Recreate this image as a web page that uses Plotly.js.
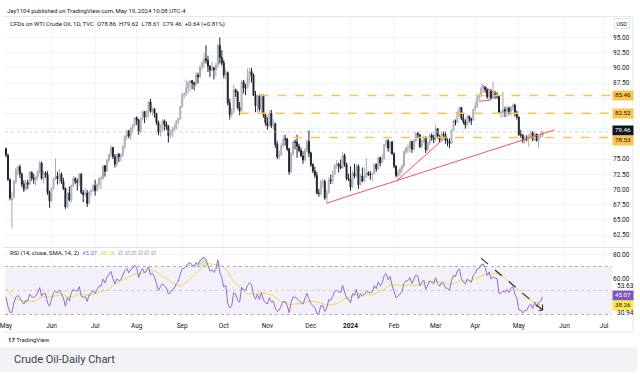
<!DOCTYPE html>
<html><head><meta charset="utf-8">
<script src="https://cdn.plot.ly/plotly-3.0.1.min.js"></script>
<style>html,body{margin:0;padding:0;background:#fff;}#chart{width:640px;height:374px;}</style>
</head><body><div id="chart"></div>
<script>
// ---------- data ----------
const months = ['2023-05','2023-06','2023-07','2023-08','2023-09','2023-10','2023-11','2023-12','2024-01','2024-02','2024-03','2024-04','2024-05'];
const monthDays = [
 [1,2,3,4,5,8,9,10,11,12,15,16,17,18,19,22,23,24,25,26,29,30,31],
 [1,2,5,6,7,8,9,12,13,14,15,16,19,20,21,22,23,26,27,28,29,30],
 [3,4,5,6,7,10,11,12,13,14,17,18,19,20,21,24,25,26,27,28,31],
 [1,2,3,4,7,8,9,10,11,14,15,16,17,18,21,22,23,24,25,28,29,30,31],
 [1,4,5,6,7,8,11,12,13,14,15,18,19,20,21,22,25,26,27,28,29],
 [2,3,4,5,6,9,10,11,12,13,16,17,18,19,20,23,24,25,26,27,30,31],
 [1,2,3,6,7,8,9,10,13,14,15,16,17,20,21,22,23,24,27,28,29,30],
 [1,4,5,6,7,8,11,12,13,14,15,18,19,20,21,22,26,27,28,29],
 [2,3,4,5,8,9,10,11,12,15,16,17,18,19,22,23,24,25,26,29,30,31],
 [1,2,5,6,7,8,9,12,13,14,15,16,19,20,21,22,23,26,27,28,29],
 [1,4,5,6,7,8,11,12,13,14,15,18,19,20,21,22,25,26,27,28],
 [1,2,3,4,5,8,9,10,11,12,15,16,17,18,19,22,23,24,25,26,29,30],
 [1,2,3,6,7,8,9,10,13,14,15,16,17]
];
const holidays = ['2023-12-25','2024-01-01','2024-03-29'];

const open = [
 76.7,75.6,71.6,68.3,68.7,71.3,73.1,73.7,72.5,70.9,70.0,71.1,70.9,72.8,71.9,71.6,72.0,72.9,74.3,71.8,72.7,72.4,69.5,
 68.1,70.1,71.8,72.2,71.7,72.5,71.3,70.2,67.1,69.4,68.3,70.6,71.8,71.3,71.2,72.5,69.5,69.2,69.4,67.7,69.6,69.9,
 70.6,69.8,70.8,71.8,71.8,73.9,73.0,74.8,75.8,76.9,75.4,74.2,75.8,75.4,75.6,77.1,78.7,79.6,78.8,80.1,80.6,
 81.8,81.4,79.5,81.6,82.8,81.9,82.9,84.4,82.8,83.2,82.5,81.0,79.4,80.4,81.3,80.7,80.4,78.9,79.1,79.8,80.1,81.2,81.6,
 83.6,85.6,85.7,86.7,87.5,87.9,87.5,87.3,88.8,88.5,90.2,90.8,91.5,91.2,90.3,89.6,90.0,89.7,90.4,93.7,91.7,
 90.8,88.8,89.2,84.2,82.3,82.8,86.4,86.0,83.5,82.9,87.7,86.7,86.7,88.3,89.4,88.8,85.5,83.7,85.4,83.2,85.5,82.3,
 81.0,80.4,82.5,80.5,80.8,77.4,75.3,75.7,77.2,78.3,78.3,76.7,72.9,75.9,77.8,77.8,77.1,76.4,75.5,74.9,76.4,77.9,
 76.0,74.1,73.0,72.3,69.4,69.3,71.2,71.3,68.6,69.5,71.6,71.4,72.5,73.9,74.2,73.9,73.6,75.6,74.1,71.8,
 71.7,70.4,72.7,72.2,73.8,70.8,72.2,71.4,72.0,72.7,72.5,72.4,72.6,74.1,73.4,75.2,74.4,75.1,77.4,78.0,76.8,77.8,
 75.8,73.8,72.3,72.8,73.3,73.9,76.2,76.8,76.9,77.9,76.6,78.0,79.2,79.0,77.0,77.9,78.6,76.5,77.6,78.9,78.5,
 78.3,80.0,78.7,78.2,79.1,78.9,78.0,77.9,77.6,79.7,81.3,81.0,82.7,83.5,81.7,81.1,80.6,82.0,81.6,81.4,
 83.2,83.7,85.2,85.4,86.6,86.9,86.4,85.2,86.2,85.0,85.7,85.4,85.4,82.7,82.7,83.1,82.9,83.4,82.8,83.6,83.9,82.6,
 81.9,79.0,78.9,78.1,78.5,78.4,79.0,79.3,78.3,79.1,78.0,78.6,78.86
];
const high = [
 76.9,75.9,71.8,69.5,71.6,73.6,73.9,74.1,72.8,71.5,71.6,71.6,73.0,73.0,72.6,72.3,73.2,74.7,74.6,73.0,73.0,73.0,69.8,
 70.4,72.0,75.1,72.9,73.4,72.8,71.9,70.3,69.6,70.5,70.8,72.2,72.0,71.8,72.7,72.7,69.9,70.2,69.9,69.7,70.0,70.9,
 71.6,71.0,72.0,72.3,74.0,74.0,75.0,75.9,77.3,77.0,75.8,75.9,76.0,75.9,77.3,78.9,79.8,79.8,80.2,80.8,81.8,
 82.0,81.6,81.8,83.0,82.9,83.0,84.5,84.9,83.5,83.4,82.6,81.3,80.7,81.6,81.5,81.2,80.6,79.8,80.3,80.7,81.4,81.8,83.8,
 85.9,85.9,88.1,87.8,88.0,87.9,87.7,89.3,89.2,90.4,91.2,92.4,93.7,92.0,90.4,91.0,90.2,90.8,94.0,95.0,92.9,
 91.3,89.9,89.4,84.9,83.4,87.2,86.6,86.2,84.4,88.0,88.0,87.4,89.9,90.0,90.0,89.1,86.2,85.6,85.6,85.8,85.6,82.4,
 81.9,83.0,83.1,81.6,81.0,77.9,76.4,77.6,78.9,79.0,78.5,76.8,76.1,78.0,78.2,79.0,77.5,76.9,76.3,76.8,78.2,79.7,
 76.2,74.3,73.7,72.9,70.1,71.6,71.8,71.6,69.9,72.0,72.4,73.1,74.1,74.8,74.4,74.9,76.2,75.9,74.4,72.6,
 73.8,73.1,74.2,74.2,74.1,72.6,73.6,73.6,75.2,73.0,73.0,72.8,74.4,74.3,75.3,75.4,75.8,77.5,78.2,78.3,77.9,78.0,
 76.1,74.0,73.3,73.6,74.1,76.4,77.0,77.4,78.1,78.0,78.3,79.4,79.5,79.1,78.2,78.9,78.7,77.9,79.2,79.2,79.0,
 80.6,80.1,79.0,79.6,79.5,79.5,78.4,78.4,79.9,81.5,81.5,83.0,83.6,83.5,82.4,81.5,82.3,82.2,81.8,83.2,
 84.4,85.5,85.8,87.0,87.1,87.0,86.7,86.6,86.5,87.7,86.2,86.0,85.4,83.0,86.1,83.6,83.8,83.6,83.7,84.1,84.1,83.0,
 82.0,79.8,79.1,78.9,78.9,79.0,79.6,79.6,79.4,79.2,78.8,79.3,79.62
];
const low = [
 75.3,71.4,68.2,63.6,68.5,70.9,72.3,71.9,70.4,69.6,69.7,70.1,70.7,71.4,70.9,70.6,71.6,72.6,71.6,71.0,71.9,69.1,67.0,
 67.9,70.0,71.5,70.8,71.0,70.9,69.9,66.8,67.0,68.0,67.9,70.4,70.9,69.8,70.6,69.2,67.9,68.8,67.1,67.6,68.9,69.6,
 69.0,69.7,70.2,70.0,71.6,72.1,72.9,74.5,75.3,75.0,73.6,73.7,74.5,74.6,75.4,76.6,78.2,78.4,78.1,79.3,80.3,
 80.6,79.0,79.3,81.4,80.9,81.5,81.9,82.6,82.1,81.8,80.6,78.9,78.7,79.6,79.7,79.8,77.7,78.4,78.6,79.6,79.8,80.7,81.5,
 83.5,85.0,85.3,85.8,86.1,86.5,86.3,86.9,87.4,88.4,89.6,90.0,90.7,89.3,88.5,89.4,88.1,88.6,90.0,90.7,90.4,
 88.3,88.1,83.8,81.5,81.9,82.5,85.2,83.2,82.2,82.8,85.8,85.5,86.6,87.4,87.6,85.4,82.7,82.6,82.8,82.6,81.8,80.5,
 79.8,80.2,80.1,79.8,76.8,75.0,74.9,75.5,76.9,77.2,76.3,72.4,72.7,75.5,76.6,75.2,76.1,75.3,74.2,74.6,76.1,75.3,
 73.7,72.7,71.9,69.2,68.8,69.0,70.3,68.3,67.7,69.3,70.9,70.9,72.4,73.4,72.8,73.3,73.4,73.7,71.5,71.4,
 69.8,70.3,71.8,72.0,70.1,70.6,71.2,71.2,72.0,72.2,71.6,71.3,72.5,72.9,73.2,73.8,74.3,74.9,76.9,76.2,75.9,75.7,
 73.5,72.0,71.4,72.2,72.7,73.6,75.8,76.0,76.1,76.0,76.4,77.7,78.5,76.8,76.8,77.6,76.0,76.4,77.3,78.0,77.6,
 77.9,78.4,77.7,78.0,78.5,77.5,77.1,76.8,77.5,79.6,80.5,80.9,81.9,81.4,80.7,80.0,80.5,81.0,80.6,81.3,
 82.9,83.4,84.6,85.2,85.9,85.9,84.9,84.7,84.8,84.9,84.9,84.9,82.5,81.8,81.9,81.9,81.9,82.3,82.1,83.0,82.0,81.5,
 78.8,78.5,77.6,77.5,77.9,77.0,78.6,77.9,78.0,77.9,76.8,78.4,78.61
];
const close = [
 75.66,71.66,68.60,68.56,71.34,73.16,73.71,72.56,70.87,70.04,71.11,70.86,72.83,71.86,71.69,71.99,72.91,74.34,71.83,72.67,72.40,69.46,68.09,
 70.10,71.74,72.15,71.74,72.53,71.29,70.17,67.12,69.42,68.27,70.62,71.78,71.30,71.19,72.53,69.51,69.16,69.37,67.70,69.56,69.86,70.64,
 69.79,70.80,71.79,71.80,73.86,72.99,74.83,75.75,76.89,75.42,74.15,75.75,75.35,75.63,77.07,78.74,79.63,78.78,80.09,80.58,81.80,
 81.37,79.49,81.55,82.82,81.94,82.92,84.40,82.82,83.19,82.51,80.99,79.38,80.39,81.25,80.72,80.35,78.89,79.05,79.83,80.10,81.16,81.63,83.63,
 85.55,85.70,86.69,87.54,87.87,87.51,87.29,88.84,88.52,90.16,90.77,91.48,91.20,90.28,89.63,90.03,89.68,90.39,93.68,91.71,90.79,
 88.82,89.23,84.22,82.31,82.79,86.38,85.97,83.49,82.91,87.69,86.66,86.66,88.32,89.37,88.75,85.49,83.74,85.39,83.21,85.54,82.31,81.02,
 80.44,82.46,80.51,80.82,77.37,75.33,75.74,77.17,78.26,78.26,76.66,72.90,75.89,77.83,77.77,77.10,76.40,75.54,74.86,76.41,77.86,75.96,
 74.07,73.04,72.32,69.38,69.34,71.23,71.32,68.61,69.47,71.58,71.43,72.47,73.94,74.22,73.89,73.56,75.57,74.11,71.77,71.65,
 70.38,72.70,72.19,73.81,70.77,72.24,71.37,72.02,72.68,72.50,72.40,72.56,74.08,73.41,75.19,74.37,75.09,77.36,78.01,76.78,77.82,75.85,
 73.82,72.28,72.78,73.31,73.86,76.22,76.84,76.92,77.87,76.64,78.03,79.19,79.00,77.04,77.91,78.61,76.49,77.58,78.87,78.54,78.26,
 79.97,78.74,78.15,79.13,78.93,78.01,77.93,77.56,79.72,81.26,81.04,82.72,83.47,81.68,81.07,80.63,81.95,81.62,81.35,83.17,
 83.71,85.15,85.43,86.59,86.91,86.43,85.23,86.21,85.02,85.66,85.41,85.36,82.69,82.73,83.14,82.90,83.36,82.81,83.57,83.85,82.63,81.93,
 79.00,78.95,78.11,78.48,78.38,78.99,79.26,78.26,79.12,78.02,78.63,78.82,79.46
];
// closes before the visible window (Mar-Apr 2023), only used to warm up the RSI
const warmupClose = [77.69,78.16,79.68,80.46,77.58,76.66,75.72,76.68,74.80,71.33,67.61,68.35,66.74,67.64,69.33,70.90,69.96,69.26,72.81,73.20,72.97,74.37,75.67,
 80.42,80.71,80.61,80.70,79.74,81.53,83.26,82.16,82.52,80.83,81.86,79.16,77.37,77.87,78.76,77.07,74.30,74.76,76.78];

const monthTickDates = ['2023-05-01','2023-06-01','2023-07-03','2023-08-01','2023-09-01','2023-10-02','2023-11-01','2023-12-01','2024-01-02','2024-02-01','2024-03-01','2024-04-01','2024-05-01','2024-06-03','2024-07-01'];
const monthTickLabels = ['May','Jun','Jul','Aug','Sep','Oct','Nov','Dec','<b>2024</b>','Feb','Mar','Apr','May','Jun','Jul'];
const priceTicks = [62.5,65,67.5,70,72.5,75,77.5,80,82.5,85,87.5,90,92.5,95];
const priceTicksHidden = [77.5,80,82.5,85];   // covered by the price badges in the reference
const rsiTicks = [40,60,80];
const rsiTicksHidden = [40];

const levelValues = [85.46, 82.52, 78.53];
const levelStarts = ['2023-10-26','2023-10-12','2023-11-20'];
const lastPrice = 79.46;
const rsiValueLabel = 45.07, rsiMaLabel = 38.26;
const rsiExtraLabels = [53.63, 30.94];
// drawn trend lines [x0, y0, x1, y1]
const trendLines = [
 ['2023-12-13',67.75,'2024-05-27',79.8],
 ['2024-02-05',71.6,'2024-03-08',78.6],
 ['2024-04-04',87.3,'2024-04-15',85.8],
 ['2024-04-03',84.5,'2024-04-11',84.7]
];
const rsiArrow = ['2024-04-04',76.8,'2024-05-17',33.75];

// ---------- build ----------
const dates = [];
months.forEach((m,i)=>monthDays[i].forEach(d=>dates.push(m+'-'+String(d).padStart(2,'0'))));

const allClose = warmupClose.concat(close);
const rsiAll = [null];
let ag=0, al=0;
for (let i=1;i<allClose.length;i++){
  const ch = allClose[i]-allClose[i-1];
  const g = Math.max(ch,0), l = Math.max(-ch,0);
  if (i<=14){ ag+=g/14; al+=l/14; if(i<14){rsiAll.push(null);continue;} }
  else { ag=(ag*13+g)/14; al=(al*13+l)/14; }
  rsiAll.push(al===0?100:100-100/(1+ag/al));
}
const maAll = rsiAll.map((v,i)=>{
  if (i<27) return null;
  let s=0; for(let k=i-13;k<=i;k++) s+=rsiAll[k]; return s/14;
});
const off = warmupClose.length;
const rsi = rsiAll.slice(off);
const rsiMa = maAll.slice(off);
const obTop = rsi.map(v=>Math.max(v,70));
const osBot = rsi.map(v=>Math.min(v,30));

const xRange = ['2023-04-28 12:00','2024-07-05 01:30'];
const FONT = 'Roboto, "Open Sans", sans-serif';

const traces = [
 {type:'candlestick', x:dates, open:open, high:high, low:low, close:close, xaxis:'x', yaxis:'y',
  increasing:{line:{color:'#a8abb4',width:1}, fillcolor:'#dcdee3'},
  decreasing:{line:{color:'#1e222d',width:1}, fillcolor:'#1e222d'},
  whiskerwidth:0, hoverinfo:'skip'},
 {type:'scatter', mode:'lines', x:dates, y:rsi.map(()=>70), xaxis:'x', yaxis:'y2', line:{width:0}, hoverinfo:'skip'},
 {type:'scatter', mode:'lines', x:dates, y:obTop, xaxis:'x', yaxis:'y2', line:{width:0}, fill:'tonexty', fillcolor:'rgba(76,175,80,0.28)', hoverinfo:'skip'},
 {type:'scatter', mode:'lines', x:dates, y:rsi.map(()=>30), xaxis:'x', yaxis:'y2', line:{width:0}, hoverinfo:'skip'},
 {type:'scatter', mode:'lines', x:dates, y:osBot, xaxis:'x', yaxis:'y2', line:{width:0}, fill:'tonexty', fillcolor:'rgba(242,54,69,0.2)', hoverinfo:'skip'},
 {type:'scatter', mode:'lines', x:dates, y:rsiMa, xaxis:'x', yaxis:'y2', line:{color:'#f5d84a',width:1}, hoverinfo:'skip'},
 {type:'scatter', mode:'lines', x:dates, y:rsi, xaxis:'x', yaxis:'y2', line:{color:'#8f6fd0',width:1}, hoverinfo:'skip'}
];

const PY = v => (320 - v)/303;      // pixel y -> paper y
const PX = v => (v - 5)/607;        // pixel x -> paper x
const shapes = [
 {type:'rect', xref:'paper', yref:'y2', x0:0, x1:1, y0:30, y1:70, fillcolor:'rgba(126,87,194,0.09)', line:{width:0}, layer:'below'},
 {type:'line', xref:'paper', yref:'y2', x0:0, x1:1, y0:70, y1:70, line:{color:'#9a9da6', width:0.8, dash:'dot'}},
 {type:'line', xref:'paper', yref:'y2', x0:0, x1:1, y0:50, y1:50, line:{color:'rgba(150,153,162,0.5)', width:0.8, dash:'dot'}},
 {type:'line', xref:'paper', yref:'y2', x0:0, x1:1, y0:30, y1:30, line:{color:'#9a9da6', width:0.8, dash:'dot'}},
 {type:'line', xref:'paper', yref:'y', x0:0, x1:1, y0:lastPrice, y1:lastPrice, line:{color:'#c3c6ce', width:0.8, dash:'dot'}},
 // frame
 {type:'line', xref:'paper', yref:'paper', x0:PX(3), x1:PX(633), y0:PY(16.5), y1:PY(16.5), line:{color:'#e6e8ee', width:1}},
 {type:'line', xref:'paper', yref:'paper', x0:PX(633), x1:PX(633), y0:PY(16.5), y1:PY(332), line:{color:'#e6e8ee', width:1}},
 {type:'line', xref:'paper', yref:'paper', x0:PX(3), x1:PX(633), y0:PY(332), y1:PY(332), line:{color:'#e6e8ee', width:1}},
 {type:'line', xref:'paper', yref:'paper', x0:PX(3), x1:PX(633), y0:PY(247.5), y1:PY(247.5), line:{color:'#e0e3eb', width:1}},
 // banner
 {type:'rect', xref:'paper', yref:'paper', x0:PX(0), x1:PX(637), y0:PY(347), y1:PY(372), fillcolor:'#f1f3f6', line:{width:0}, layer:'below'}
];
levelValues.forEach((v,i)=>shapes.push({type:'line', xref:'x', yref:'y', x0:levelStarts[i], x1:xRange[1], y0:v, y1:v, line:{color:'#fcc34e', width:1.4, dash:'dash'}}));
trendLines.forEach(t=>shapes.push({type:'line', xref:'x', yref:'y', x0:t[0], y0:t[1], x1:t[2], y1:t[3], line:{color:'#f7525f', width:1}}));
shapes.push({type:'line', xref:'x', yref:'y2', x0:rsiArrow[0], y0:rsiArrow[1], x1:rsiArrow[2], y1:rsiArrow[3], line:{color:'#2a2e39', width:1.2, dash:'dash'}});
shapes.push({type:'line', xref:'x', yref:'y2', x0:rsiArrow[2], y0:rsiArrow[3], x1:rsiArrow[2], y1:rsiArrow[3]+4.5, line:{color:'#2a2e39', width:1.1}});
shapes.push({type:'line', xref:'x', yref:'y2', x0:rsiArrow[2], y0:rsiArrow[3], x1:'2024-05-15', y1:rsiArrow[3]-0.6, line:{color:'#2a2e39', width:1.1}});

const badge = (y, yref, txt, bg, fg, ys) => ({xref:'paper', x:1, xanchor:'left', xshift:0, yref:yref, y:y, yanchor:'middle', yshift:ys||0,
  text:txt, showarrow:false, bgcolor:bg, font:{family:FONT, size:6.2, color:fg}, borderpad:0.5, width:19, height:7.5, align:'center', valign:'middle'});
const annotations = [
 {xref:'paper', yref:'paper', x:0, y:PY(11), xanchor:'left', yanchor:'middle', showarrow:false,
  text:'Jay1104 published on TradingView.com, May 19, 2024 10:08 UTC-4', font:{family:FONT, size:6, color:'#131722'}},
 {xref:'paper', yref:'paper', x:PX(8), y:PY(24), xanchor:'left', yanchor:'middle', showarrow:false,
  text:'CFDs on WTI Crude Oil, 1D, TVC  O78.86  H79.62  L78.61  C79.46  +0.64 (+0.81%)', font:{family:FONT, size:6, color:'#131722'}},
 {xref:'paper', yref:'paper', x:PX(8), y:PY(252.5), xanchor:'left', yanchor:'middle', showarrow:false,
  text:'RSI (14, close, SMA, 14, 2)  <span style="color:#8f6fd0">45.07</span>  <span style="color:#f2d04a">38.26</span>  <span style="color:#787b86">∅ ∅ ∅ ∅ ∅ ∅</span>', font:{family:FONT, size:6, color:'#131722'}},
 {xref:'paper', yref:'paper', x:PX(622), y:PY(24), xanchor:'center', yanchor:'middle', showarrow:false,
  text:'USD', bordercolor:'#e0e3eb', borderwidth:1, borderpad:1.5, bgcolor:'#ffffff', font:{family:FONT, size:5.5, color:'#131722'}},
 {xref:'paper', yref:'paper', x:PX(6), y:PY(339), xanchor:'left', yanchor:'middle', showarrow:false,
  text:'<b>17</b> TradingView', font:{family:FONT, size:6, color:'#131722'}},
 {xref:'paper', yref:'paper', x:PX(12), y:PY(359), xanchor:'left', yanchor:'middle', showarrow:false,
  text:'Crude Oil-Daily Chart', font:{family:FONT, size:11, color:'#3b3f48'}},
 badge(levelValues[0],'y',levelValues[0].toFixed(2),'#fcc34e','#131722'),
 badge(levelValues[1],'y',levelValues[1].toFixed(2),'#fcc34e','#131722'),
 badge(lastPrice,'y',lastPrice.toFixed(2),'#131722','#ffffff',1.5),
 badge(levelValues[2],'y',levelValues[2].toFixed(2),'#fcc34e','#131722',-2.5),
 badge(rsiValueLabel,'y2',rsiValueLabel.toFixed(2),'#7e57c2','#ffffff',0.5),
 badge(rsiMaLabel,'y2',rsiMaLabel.toFixed(2),'#fde74c','#131722',-0.5)
];
rsiExtraLabels.forEach(v=>annotations.push({xref:'paper', x:1, xanchor:'left', xshift:2.5, yref:'y2', y:v, yanchor:'middle', showarrow:false,
  text:v.toFixed(2), font:{family:FONT, size:6.5, color:'#131722'}}));

const layout = {
 width:640, height:374, margin:{l:5, r:28, t:17, b:54},
 paper_bgcolor:'#ffffff', plot_bgcolor:'#ffffff', showlegend:false,
 font:{family:FONT, size:6.5, color:'#131722'},
 xaxis:{type:'date', range:xRange, rangebreaks:[{bounds:['sat','mon']},{values:holidays}],
   rangeslider:{visible:false}, anchor:'y2', tickmode:'array', tickvals:monthTickDates, ticktext:monthTickLabels,
   ticklabeloverflow:'allow',
   showgrid:true, gridcolor:'#f2f4f8', gridwidth:1, zeroline:false, showline:false, ticks:'',
   tickfont:{family:FONT, size:6.5, color:'#131722'}, fixedrange:true},
 yaxis:{domain:[0.2409,1], range:[60.53,98.36], side:'right', tickmode:'array', tickvals:priceTicks,
   ticktext:priceTicks.map(v=>priceTicksHidden.includes(v)?'':v.toFixed(2)), showgrid:true, gridcolor:'#f2f4f8', zeroline:false, showline:false,
   ticks:'', tickfont:{family:FONT, size:6.5, color:'#131722'}},
 yaxis2:{domain:[0,0.2409], range:[25.4,86.25], side:'right', tickmode:'array', tickvals:rsiTicks,
   ticktext:rsiTicks.map(v=>rsiTicksHidden.includes(v)?'':v.toFixed(2)), showgrid:true, gridcolor:'#f2f4f8', zeroline:false, showline:false,
   ticks:'', tickfont:{family:FONT, size:6.5, color:'#131722'}},
 shapes:shapes, annotations:annotations
};
Plotly.newPlot('chart', traces, layout, {staticPlot:true, displayModeBar:false});
</script>
</body></html>
